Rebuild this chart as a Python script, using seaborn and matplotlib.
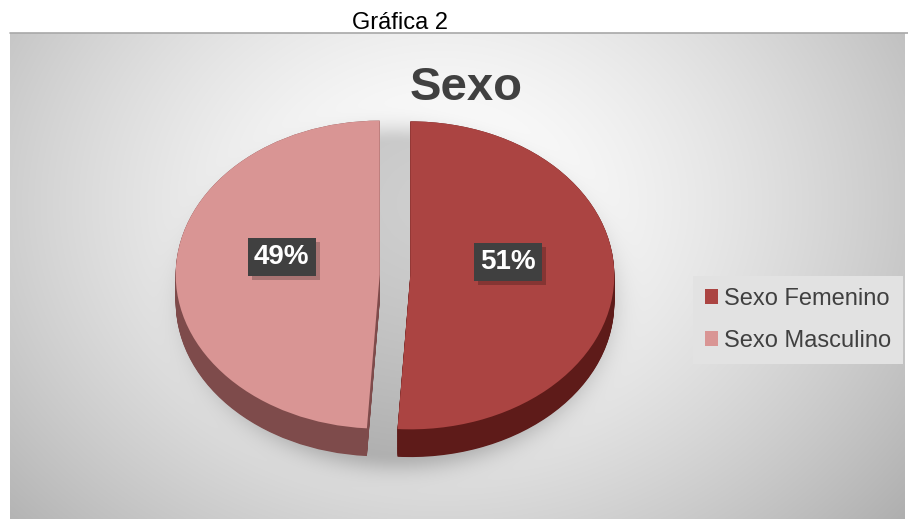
import numpy as np
import matplotlib
matplotlib.use("Agg")
import matplotlib.pyplot as plt
from matplotlib.lines import Line2D
from matplotlib.patches import Rectangle
from matplotlib.transforms import IdentityTransform
import seaborn as sns

# Data
categories = ["Sexo Femenino", "Sexo Masculino"]
shares = [51, 49]

# Styling
top_colors = ["#AB4442", "#D99594"]
side_colors = ["#5E1B19", "#7E4B4B"]
text_dark = "#404040"

sns.set_theme(style="white")
plt.rcParams["font.family"] = ["Liberation Sans", "DejaVu Sans"]

W, H = 908, 519
fig = plt.figure(figsize=(W / 100, H / 100), dpi=100)
fig.patch.set_facecolor("white")

# ---- panel background: soft radial gradient with a shadow under the pie
px0, py0, pw, ph = 10, 33, 895, 486
bg = fig.add_axes([px0 / W, 0, pw / W, ph / H])
yy, xx = np.mgrid[0:ph, 0:pw].astype(float)
r = np.sqrt(((xx - 430) / 520) ** 2 + ((yy - 170) / 420) ** 2)
val = 1.0 - 0.25 * np.clip(r, 0, 1.4) ** 1.5
d = np.sqrt(((xx + px0 - 398) / 218) ** 2 + ((yy + py0 - 298) / 172) ** 2)
val -= 0.19 * np.exp(-np.clip(d - 0.9, 0, None) ** 2 / 0.012)
val = np.clip(val, 0, 1)
bg.imshow(np.dstack([val, val, val]), aspect="auto", interpolation="bilinear")
bg.set_axis_off()

fig.add_artist(Line2D([px0 / W, 1], [1 - py0 / H, 1 - py0 / H],
                      transform=fig.transFigure, color="#a8a8a8", lw=1.2))

# ---- pie axes, scaled so the pie reads as a tilted disc
ax = fig.add_axes([0, 0, 1, 1])
ax.patch.set_alpha(0)
cx, cy = 395, 275          # pie centre (pixels, from top-left)
rx, ry = 204, 154          # on-screen radii of the top face
depth = 0.18               # thickness of the disc in y units
explode = [0.075, 0.075]

for off in np.linspace(-depth, 0, 40):
    ax.pie(shares, startangle=90, counterclock=False, explode=explode,
           colors=side_colors, center=(0, off),
           wedgeprops=dict(linewidth=0, antialiased=True))

wedges, _, autotexts = ax.pie(
    shares, startangle=90, counterclock=False, explode=explode,
    colors=top_colors, autopct=lambda p: f"{p:.0f}%", pctdistance=0.48,
    wedgeprops=dict(linewidth=0),
    textprops=dict(color="white", fontsize=20, fontweight="bold"))
for t in autotexts:
    x, y = t.get_position()
    t.set_position((x, y + 0.1))
    t.set_bbox(dict(boxstyle="square,pad=0.22", fc=text_dark, ec="none"))
    t.set_zorder(5)

ax.set_aspect("auto")
ax.set_xlim(-cx / rx, (W - cx) / rx)
ax.set_ylim(-(H - cy) / ry, cy / ry)
ax.set_axis_off()

# ---- titles
fig.text(400 / W, 1 - 29 / H, "Gráfica 2", ha="center", va="baseline",
         fontsize=17, color="black")
fig.text(466 / W, 1 - 100 / H, "Sexo", ha="center", va="baseline",
         fontsize=34, fontweight="bold", color=text_dark)

# ---- legend
leg = ax.legend(wedges, categories, loc="upper left",
                bbox_to_anchor=(693 / W, 1 - 276 / H),
                bbox_transform=fig.transFigure, frameon=True,
                facecolor="#e2e2e2", edgecolor="none", framealpha=1,
                fancybox=False, fontsize=17, labelcolor=text_dark,
                handlelength=0.55, handleheight=0.55, handletextpad=0.25,
                labelspacing=0.85, borderpad=0.5, borderaxespad=0)

# ---- soft drop shadow behind each percentage box
fig.canvas.draw()
renderer = fig.canvas.get_renderer()
for t in autotexts:
    bb = t.get_bbox_patch().get_window_extent(renderer)
    ax.add_artist(Rectangle((bb.x0 + 4, bb.y0 - 4), bb.width, bb.height,
                            transform=IdentityTransform(), fc="black",
                            ec="none", alpha=0.22, zorder=4))

fig.savefig("out.png", dpi=100)
